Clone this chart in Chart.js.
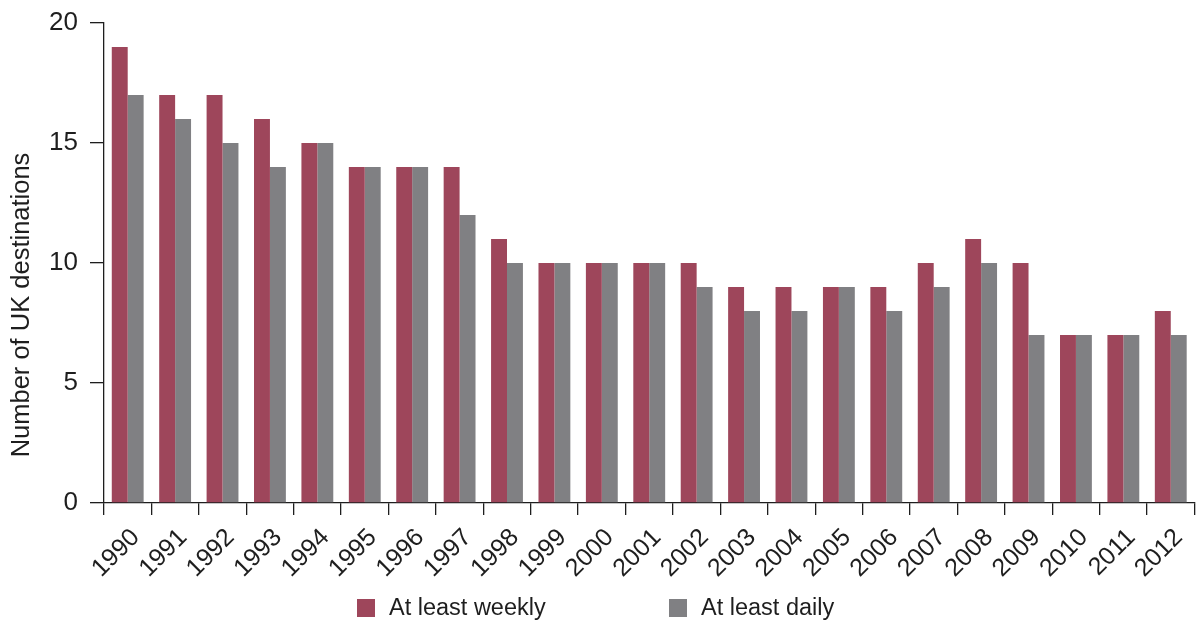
<!DOCTYPE html>
<html><head><meta charset="utf-8">
<script src="https://cdn.jsdelivr.net/npm/chart.js@4.4.1/dist/chart.umd.min.js"></script>
<style>html,body{margin:0;padding:0;background:#fff;} #wrap{width:1200px;height:624px;position:relative;}</style>
</head><body><div id="wrap"><canvas id="c" width="1200" height="624"></canvas></div>
<script>
const years = ['1990','1991','1992','1993','1994','1995','1996','1997','1998','1999','2000','2001','2002','2003','2004','2005','2006','2007','2008','2009','2010','2011','2012'];
const weekly = [19,17,17,16,15,14,14,14,11,10,10,10,10,9,9,9,9,10,11,10,7,7,8];
const daily  = [17,16,15,14,15,14,14,12,10,10,10,10,9,8,8,9,8,9,10,7,7,7,7];
const yTickValues = [0,5,10,15,20];
const seriesNames = ['At least weekly','At least daily'];
const yTitle = 'Number of UK destinations';
const seriesColors = ['#9e465b','#808083'];

const FONT = '"Liberation Sans", Arial, sans-serif';
const INK = '#1e1e1e';

const customPlugin = {
  id: 'custom',
  afterDraw(chart) {
    const ctx = chart.ctx;
    ctx.save();
    ctx.fillStyle = INK;
    ctx.font = '25.5px ' + FONT;
    ctx.textAlign = 'center';
    ctx.textBaseline = 'middle';
    ctx.translate(22, 305);
    ctx.rotate(-Math.PI / 2);
    ctx.fillText(yTitle, 0, 0);
    ctx.restore();
    ctx.save();
    const items = [{box: 357, text: 389}, {box: 669, text: 701}];
    ctx.font = '23.5px ' + FONT;
    ctx.textAlign = 'left';
    ctx.textBaseline = 'middle';
    chart.data.datasets.forEach((ds, i) => {
      ctx.fillStyle = ds.backgroundColor;
      ctx.fillRect(items[i].box, 599, 18, 18);
      ctx.fillStyle = INK;
      ctx.fillText(ds.label, items[i].text, 609);
    });
    ctx.restore();
  }
};

new Chart(document.getElementById('c'), {
  type: 'bar',
  data: {
    labels: years,
    datasets: [
      {label: seriesNames[0], data: weekly, backgroundColor: seriesColors[0], borderWidth: 0},
      {label: seriesNames[1], data: daily, backgroundColor: seriesColors[1], borderWidth: 0}
    ]
  },
  options: {
    responsive: false,
    animation: false,
    devicePixelRatio: 1,
    categoryPercentage: 0.672,
    barPercentage: 1,
    layout: {padding: {top: 23, right: 1, left: 0, bottom: 0}},
    plugins: {legend: {display: false}, tooltip: {enabled: false}},
    scales: {
      x: {
        grid: {offset: true, drawOnChartArea: false, drawTicks: true, tickLength: 12, color: INK, lineWidth: 1.3},
        border: {display: true, color: INK, width: 1.3},
        ticks: {color: INK, font: {family: FONT, size: 25}, minRotation: 45, maxRotation: 45, padding: 8, labelOffset: 8, autoSkip: false},
        afterFit(s) { s.height = 121; }
      },
      y: {
        min: 0, max: 20,
        afterBuildTicks(s) { s.ticks = yTickValues.map(v => ({value: v})); },
        grid: {drawOnChartArea: false, drawTicks: true, tickLength: 14, color: INK, lineWidth: 1.3},
        border: {display: true, color: INK, width: 1.3},
        ticks: {color: INK, font: {family: FONT, size: 26}, padding: 12},
        afterFit(s) { s.width = 104; s.paddingTop = 0; s.paddingBottom = 0; }
      }
    }
  },
  plugins: [customPlugin]
});
</script></body></html>
